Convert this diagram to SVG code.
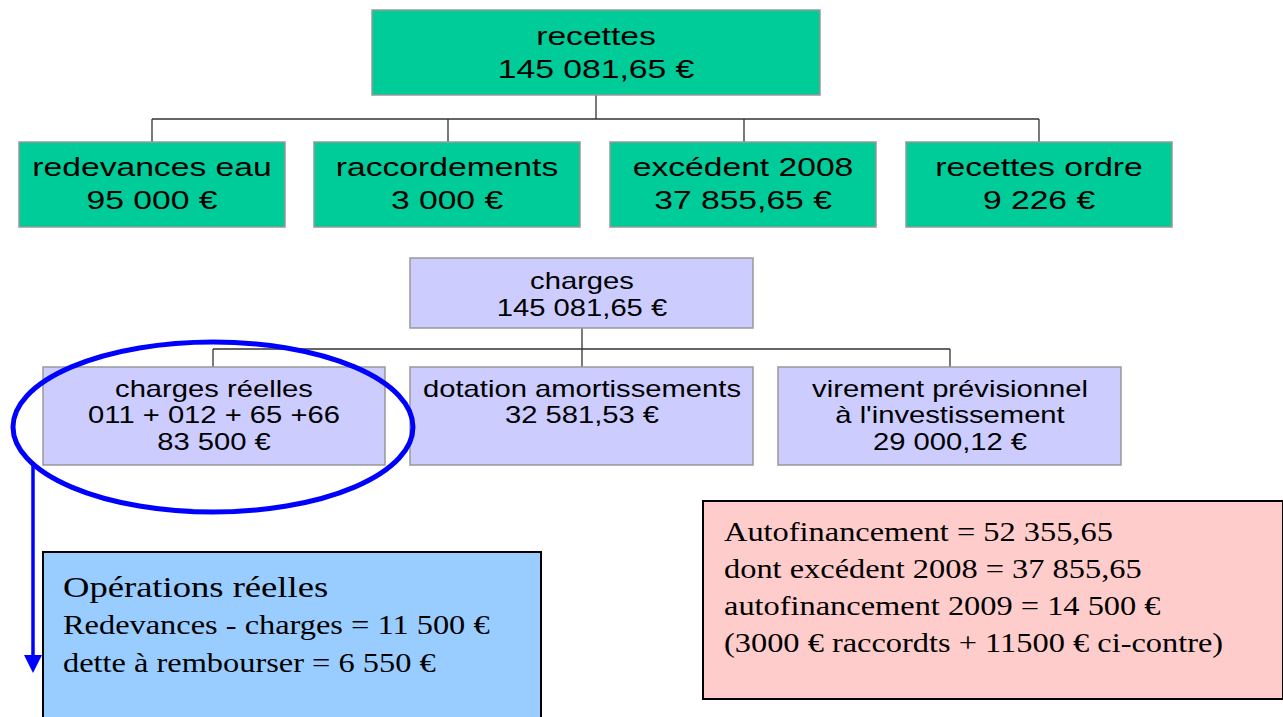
<svg xmlns="http://www.w3.org/2000/svg" width="1283" height="717" viewBox="0 0 1283 717">
<style>
.g{fill:#00cc99;stroke:#999;stroke-width:1.5}
.v{fill:#ccccff;stroke:#999;stroke-width:1.5}
.t1{font-family:"Liberation Sans",Arial,sans-serif;font-size:26.5px;fill:#000;text-anchor:middle}
.t2{font-family:"Liberation Sans",Arial,sans-serif;font-size:23px;fill:#000;text-anchor:middle}
.tr{font-family:"Liberation Serif","Times New Roman",serif;font-size:27px;fill:#000}
.c{fill:none;stroke:#333;stroke-width:1.3}
</style>
<rect width="1283" height="717" fill="#fff"/>
<g id="connectors">
<path class="c" d="M596,95 V119 M152,119 H1039 M152,119 V142 M448,119 V142 M744,119 V142 M1039,119 V142"/>
<path class="c" d="M582,328 V349 M213,349 H950 M213,349 V367 M582,349 V367 M950,349 V367"/>
<path d="M33,465 V656" stroke="#0000ff" stroke-width="3.5" fill="none"/>
<path d="M24,655 L42,655 L33,673 Z" fill="#0000ff"/>
</g>
<g id="recettes"><rect class="g" x="372" y="10" width="448" height="85"/>
<text class="t1" transform="translate(596,0) scale(1.27,1)"><tspan x="0" y="45">recettes</tspan><tspan x="0" y="78">145 081,65 €</tspan></text></g>
<g id="redevances"><rect class="g" x="19" y="142" width="266" height="85"/>
<text class="t1" transform="translate(152,0) scale(1.27,1)"><tspan x="0" y="176">redevances eau</tspan><tspan x="0" y="209">95 000 €</tspan></text></g>
<g id="raccordements"><rect class="g" x="314" y="142" width="266" height="85"/>
<text class="t1" transform="translate(447,0) scale(1.27,1)"><tspan x="0" y="176">raccordements</tspan><tspan x="0" y="209">3 000 €</tspan></text></g>
<g id="excedent"><rect class="g" x="610" y="142" width="266" height="85"/>
<text class="t1" transform="translate(743,0) scale(1.27,1)"><tspan x="0" y="176">excédent 2008</tspan><tspan x="0" y="209">37 855,65 €</tspan></text></g>
<g id="recettes-ordre"><rect class="g" x="906" y="142" width="266" height="85"/>
<text class="t1" transform="translate(1039,0) scale(1.27,1)"><tspan x="0" y="176">recettes ordre</tspan><tspan x="0" y="209">9 226 €</tspan></text></g>
<g id="charges"><rect class="v" x="410" y="258" width="343" height="70"/>
<text class="t2" transform="translate(582,0) scale(1.27,1)"><tspan x="0" y="289">charges</tspan><tspan x="0" y="316">145 081,65 €</tspan></text></g>
<g id="charges-reelles"><rect class="v" x="43" y="367" width="342" height="98"/>
<text class="t2" transform="translate(214,0) scale(1.27,1)"><tspan x="0" y="397">charges réelles</tspan><tspan x="0" y="423">011 + 012 + 65 +66</tspan><tspan x="0" y="450">83 500 €</tspan></text></g>
<g id="dotation"><rect class="v" x="410" y="367" width="343" height="98"/>
<text class="t2" transform="translate(582,0) scale(1.27,1)"><tspan x="0" y="397">dotation amortissements</tspan><tspan x="0" y="423">32 581,53 €</tspan></text></g>
<g id="virement"><rect class="v" x="778" y="367" width="343" height="98"/>
<text class="t2" transform="translate(950,0) scale(1.27,1)"><tspan x="0" y="397">virement prévisionnel</tspan><tspan x="0" y="423">à l'investissement</tspan><tspan x="0" y="450">29 000,12 €</tspan></text></g>
<g id="highlight"><ellipse cx="213" cy="427" rx="200" ry="85" fill="none" stroke="#0000ff" stroke-width="5"/></g>
<g id="operations"><rect x="43" y="552" width="498" height="180" fill="#99ccff" stroke="#000" stroke-width="2"/>
<text class="tr" transform="translate(63,0) scale(1.2,1)"><tspan x="0" y="597" font-size="30.5">Opérations réelles</tspan><tspan x="0" y="634">Redevances - charges = 11 500 €</tspan><tspan x="0" y="672">dette à rembourser = 6 550 €</tspan></text></g>
<g id="autofinancement"><rect x="703" y="501" width="580" height="198" fill="#ffcccc" stroke="#000" stroke-width="2"/>
<text class="tr" transform="translate(724,0) scale(1.2,1)" font-size="28"><tspan x="0" y="541">Autofinancement = 52 355,65</tspan><tspan x="0" y="578">dont excédent 2008 = 37 855,65</tspan><tspan x="0" y="615">autofinancement 2009 = 14 500 €</tspan><tspan x="0" y="652">(3000 € raccordts + 11500 € ci-contre)</tspan></text></g>
</svg>
